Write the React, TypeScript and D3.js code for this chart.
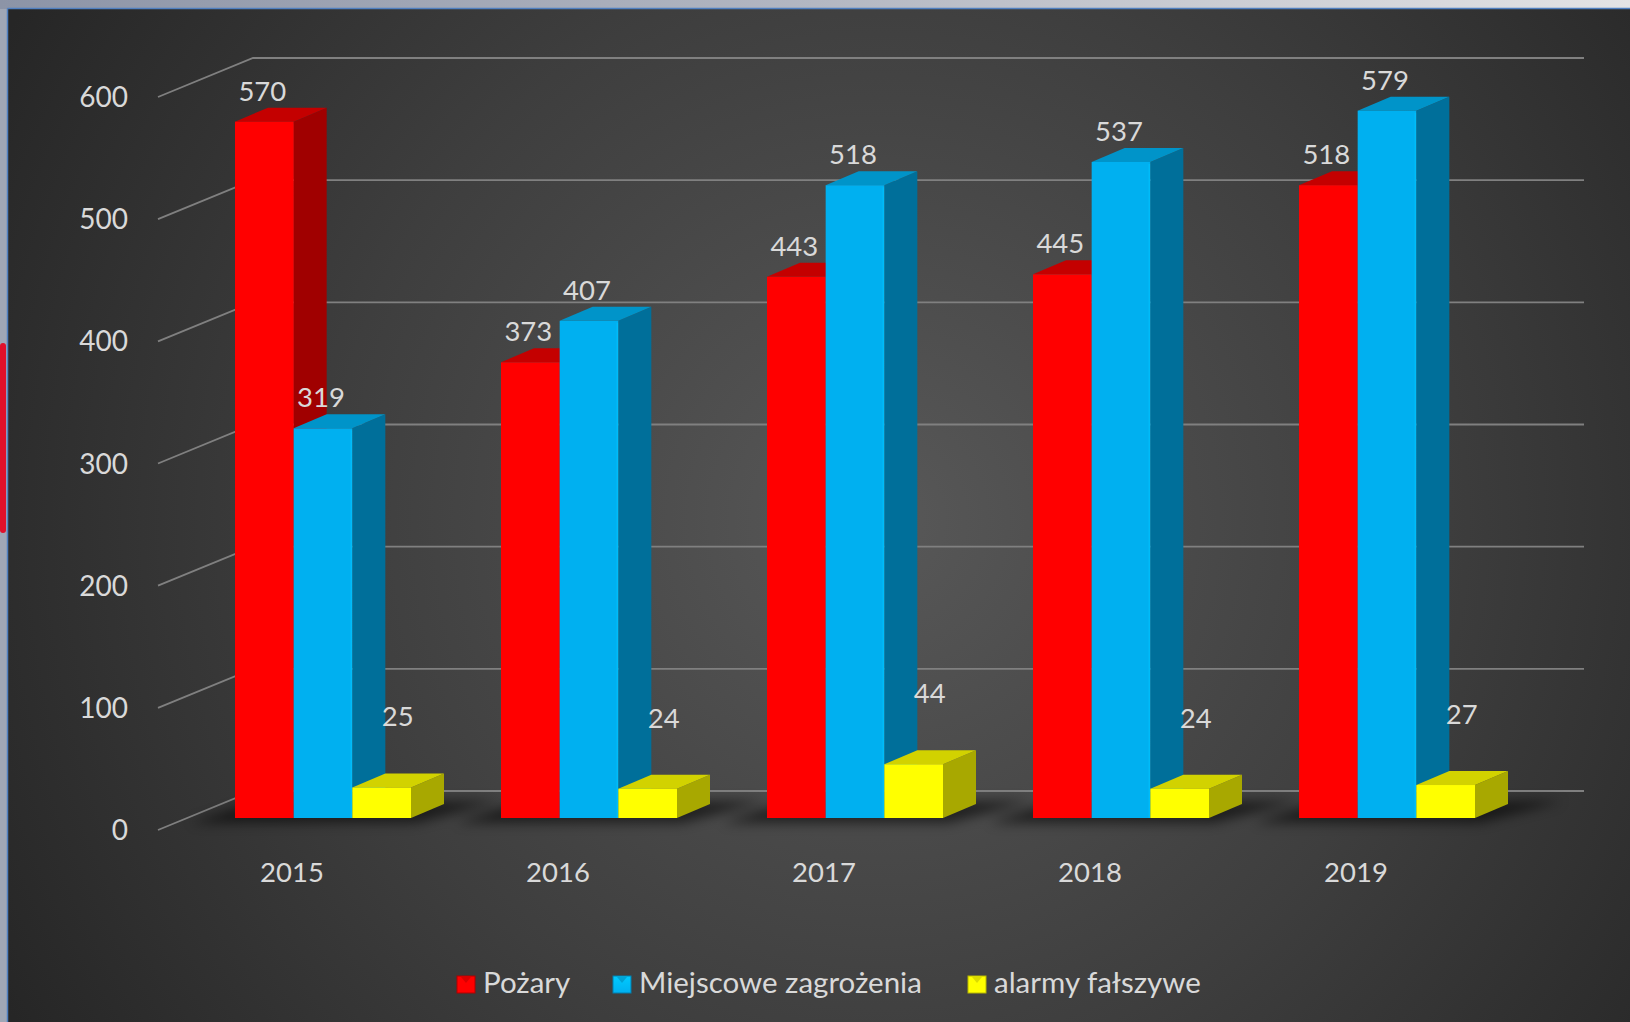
import React from 'react';
import * as d3 from 'd3';

const years = ['2015', '2016', '2017', '2018', '2019'];
const seriesNames = ['Pożary', 'Miejscowe zagrożenia', 'alarmy fałszywe'];
const pozary = [570, 373, 443, 445, 518];
const miejscowe = [319, 407, 518, 537, 579];
const alarmy = [25, 24, 44, 24, 27];
const yTicks = [0, 100, 200, 300, 400, 500, 600];

const seriesValues = [pozary, miejscowe, alarmy];
const seriesColors = [
  { front: '#FF0000', top: '#C40000', side: '#A00000', stroke: '#B00000' },
  { front: '#00B0F0', top: '#0094C9', side: '#006F9A', stroke: '#0080B0' },
  { front: '#FFFF00', top: '#D2D200', side: '#A8A800', stroke: '#B8B800' },
];

const W = 1630;
const H = 1022;
const FONT = 'Lato, "Open Sans", "Noto Sans", sans-serif';
const TEXT = '#D9D9D9';

// geometry
const wallFrontX = 158;
const wallBackX = 253;
const wallRightX = 1584;
const floorFrontY = 830;
const floorBackY = 791;
const barBaseY = 818;
const depthDX = 33;
const depthDY = -14;

export default function App() {
  const h = d3.scaleLinear().domain([0, 600]).range([0, 733]);
  const xGroup = d3.scaleBand<string>().domain(years).range([235, 235 + 266 * 5]).paddingInner(0).paddingOuter(0);
  const xInner = d3.scaleBand<string>().domain(seriesNames).range([0, 176]).padding(0);
  const bw = xInner.bandwidth();

  const poly = (pts: [number, number][]) => 'M' + pts.map((p) => p.join(',')).join('L') + 'Z';

  const legendX = [457, 613, 968];

  return (
    <svg width={W} height={H} style={{ position: 'absolute', left: 0, top: 0, display: 'block' }}>
      <defs>
        <linearGradient id="topStrip" x1="0" x2="1" y1="0" y2="0">
          <stop offset="0" stopColor="#8c94a7" />
          <stop offset="0.5" stopColor="#b3b7c2" />
          <stop offset="1" stopColor="#e3e3e5" />
        </linearGradient>
        <radialGradient id="bg" gradientUnits="userSpaceOnUse" cx={880} cy={520} r={1000}>
          <stop offset="0" stopColor="#585858" />
          <stop offset="0.55" stopColor="#3e3e3e" />
          <stop offset="1" stopColor="#262626" />
        </radialGradient>
        <filter id="shadowBlur" x="-20%" y="-200%" width="140%" height="500%">
          <feGaussianBlur stdDeviation="6" />
        </filter>
        {seriesColors.map((c, i) => (
          <linearGradient key={i} id={'lg' + i} x1="0" x2="0" y1="0" y2="1">
            <stop offset="0" stopColor={d3.color(c.front)!.brighter(0.4).formatHex()} />
            <stop offset="1" stopColor={c.front} />
          </linearGradient>
        ))}
      </defs>

      {/* outer strips */}
      <rect x={0} y={0} width={W} height={H} fill="#a0a7b6" />
      <rect x={0} y={0} width={W} height={9} fill="url(#topStrip)" />
      <rect x={0} y={343} width={6} height={190} rx={3} fill="#e0102a" />
      {/* chart area */}
      <rect x={8} y={9} width={W - 8} height={H - 9} fill="url(#bg)" />
      <line x1={7.5} y1={8.5} x2={7.5} y2={H} stroke="#4f7fc0" strokeWidth={1.5} />
      <line x1={7.5} y1={8.5} x2={W} y2={8.5} stroke="#4f7fc0" strokeWidth={1.5} />

      {/* gridlines */}
      <g stroke="#808080" strokeWidth={1.8} fill="none">
        {yTicks.map((t) => (
          <path
            key={t}
            d={`M${wallFrontX},${floorFrontY - h(t)}L${wallBackX},${floorBackY - h(t)}L${wallRightX},${floorBackY - h(t)}`}
          />
        ))}
      </g>

      {/* y tick labels */}
      <g fill={TEXT} fontFamily={FONT} fontSize={28} textAnchor="end">
        {yTicks.map((t) => (
          <text key={t} x={128} y={floorFrontY - h(t) + 10}>
            {t}
          </text>
        ))}
      </g>

      {/* shadows */}
      <g filter="url(#shadowBlur)" fill="#000" opacity={0.55}>
        {years.map((y) => {
          const x0 = xGroup(y)!;
          return (
            <path
              key={y}
              d={poly([
                [x0 - 45, barBaseY + 5],
                [x0 + 3 * bw + 5, barBaseY + 5],
                [x0 + 3 * bw + depthDX + 55, barBaseY + depthDY - 3],
                [x0 + depthDX - 10, barBaseY + depthDY - 3],
              ])}
            />
          );
        })}
      </g>

      {/* bars */}
      {years.map((y, gi) => {
        const x0 = xGroup(y)!;
        return (
          <g key={y}>
            {seriesNames.map((s, si) => {
              const v = seriesValues[si][gi];
              const c = seriesColors[si];
              const xl = x0 + xInner(s)!;
              const xr = xl + bw;
              const yt = barBaseY - h(v);
              return (
                <g key={s}>
                  <path
                    d={poly([
                      [xr, yt],
                      [xr + depthDX, yt + depthDY],
                      [xr + depthDX, barBaseY + depthDY],
                      [xr, barBaseY],
                    ])}
                    fill={c.side}
                  />
                  <path
                    d={poly([
                      [xl, yt],
                      [xl + depthDX, yt + depthDY],
                      [xr + depthDX, yt + depthDY],
                      [xr, yt],
                    ])}
                    fill={c.top}
                  />
                  <rect x={xl} y={yt} width={bw} height={barBaseY - yt} fill={c.front} />
                  <line x1={xr - 1} x2={xr - 1} y1={yt + 2} y2={barBaseY} stroke={d3.color(c.front)!.brighter(0.3).formatHex()} strokeWidth={1.5} opacity={0.6} />
                </g>
              );
            })}
          </g>
        );
      })}

      {/* data labels */}
      <g fill={TEXT} fontFamily={FONT} fontSize={27.5} textAnchor="middle">
        {years.map((y, gi) =>
          seriesNames.map((s, si) => {
            const v = seriesValues[si][gi];
            const x0 = xGroup(y)! + xInner(s)!;
            const yt = barBaseY - h(v);
            const small = si === 2;
            return (
              <text key={y + s} x={x0 + bw / 2 + (small ? 16 : -2)} y={small ? yt - 61 : yt - 21}>
                {v}
              </text>
            );
          })
        )}
      </g>

      {/* category labels */}
      <g fill={TEXT} fontFamily={FONT} fontSize={27.5} textAnchor="middle">
        {years.map((y) => (
          <text key={y} x={xGroup(y)! + 57} y={882}>
            {y}
          </text>
        ))}
      </g>

      {/* legend */}
      <g fontFamily={FONT} fontSize={29.5} fill={TEXT}>
        {seriesNames.map((s, i) => {
          const c = seriesColors[i];
          const lx = legendX[i];
          return (
            <g key={s}>
              <rect x={lx} y={976} width={18} height={17} fill={`url(#lg${i})`} stroke={c.stroke} strokeWidth={1} />
              <path d={poly([[lx + 4, 977], [lx + 14, 977], [lx + 9, 983]])} fill={c.side} opacity={0.4} />
              <text x={lx + 26} y={993}>
                {s}
              </text>
            </g>
          );
        })}
      </g>
    </svg>
  );
}
